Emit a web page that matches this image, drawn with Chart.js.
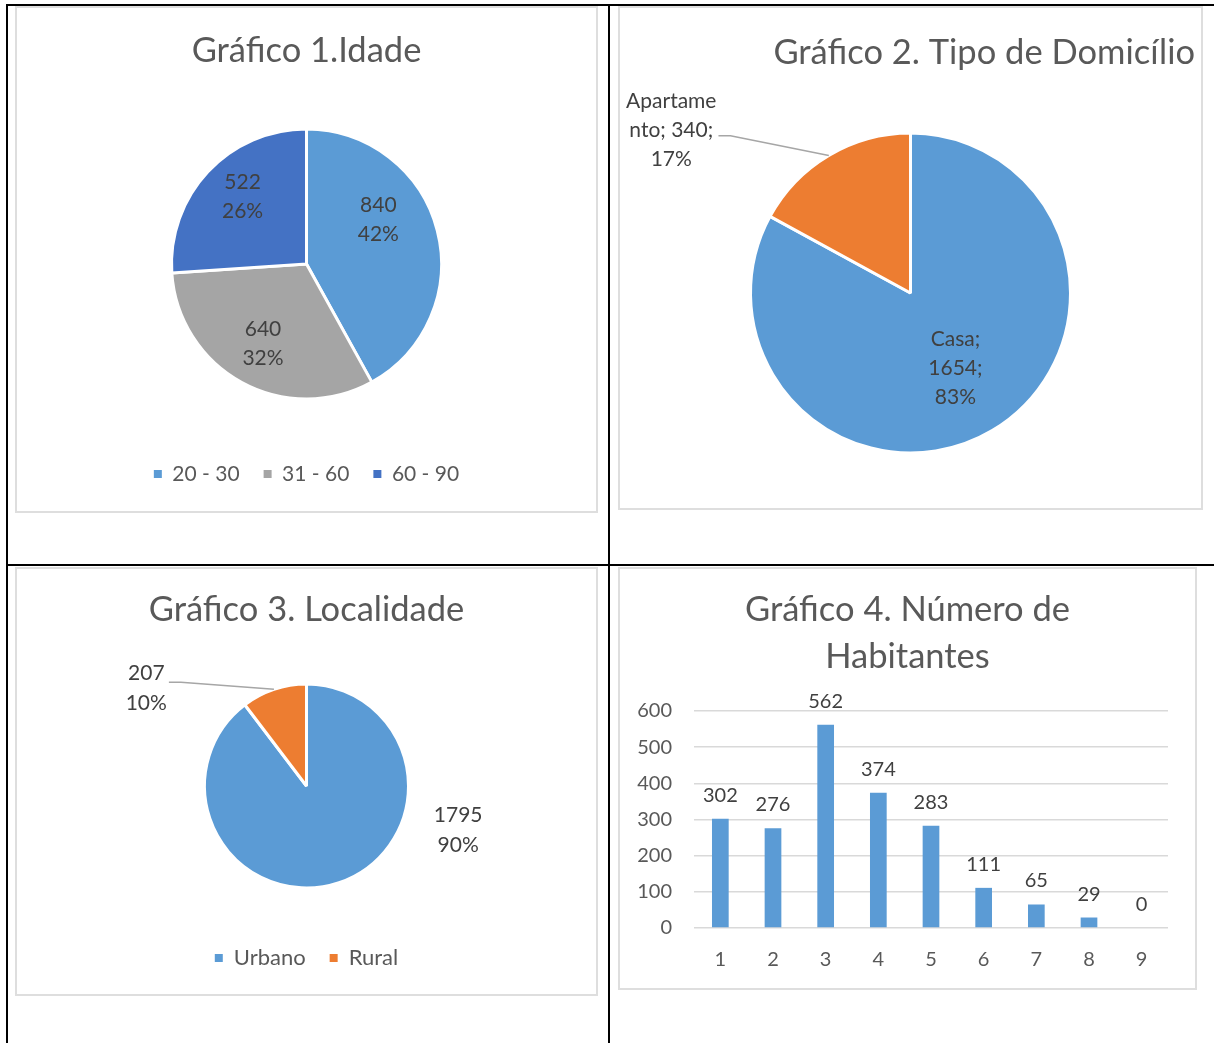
<!DOCTYPE html>
<html>
<head>
<meta charset="utf-8">
<script src="https://cdn.jsdelivr.net/npm/chart.js@4.4.1/dist/chart.umd.min.js"></script>
<style>
  html, body { margin:0; padding:0; background:#fff; }
  body { width:1214px; height:1043px; position:relative; overflow:hidden; font-family: Lato, sans-serif; }
  .ln { position:absolute; background:#000; }
  .box { position:absolute; box-sizing:border-box; border:2px solid #DEDEDE; background:#fff; }
  canvas { position:absolute; }
</style>
</head>
<body>
<div class="box" style="left:15px;top:6px;width:583px;height:507px"></div>
<div class="box" style="left:618px;top:6px;width:585px;height:504px"></div>
<div class="box" style="left:15px;top:567px;width:583px;height:429px"></div>
<div class="box" style="left:618px;top:567px;width:579px;height:423px"></div>

<div class="ln" style="left:6px;top:4px;width:1208px;height:2px"></div>
<div class="ln" style="left:6px;top:4px;width:2px;height:1039px"></div>
<div class="ln" style="left:608px;top:4px;width:2px;height:1039px"></div>
<div class="ln" style="left:6px;top:564px;width:1208px;height:2px"></div>

<canvas id="c1" width="583" height="507" style="left:15px;top:6px"></canvas>
<canvas id="c2" width="585" height="504" style="left:618px;top:6px"></canvas>
<canvas id="c3" width="583" height="429" style="left:15px;top:567px"></canvas>
<canvas id="c4" width="579" height="423" style="left:618px;top:567px"></canvas>

<script>
// ---------- DATA ----------
const idadeTitle = 'Gráfico 1.Idade';
const idadeLabels = ['20 - 30', '31 - 60', '60 - 90'];
const idadeValues = [840, 640, 522];

const domicilioTitle = 'Gráfico 2. Tipo de Domicílio';
const domicilioLabels = ['Casa', 'Apartamento'];
const domicilioValues = [1654, 340];

const localidadeTitle = 'Gráfico 3. Localidade';
const localidadeLabels = ['Urbano', 'Rural'];
const localidadeValues = [1795, 207];

const habitantesTitle = ['Gráfico 4. Número de', 'Habitantes'];
const habitantesLabels = ['1', '2', '3', '4', '5', '6', '7', '8', '9'];
const habitantesValues = [302, 276, 562, 374, 283, 111, 65, 29, 0];
const habitantesTicks = [0, 100, 200, 300, 400, 500, 600];

// ---------- STYLE ----------
const FONT = 'Lato, "Open Sans", sans-serif';
const BLUE = '#5B9BD5', ORANGE = '#ED7D31', GREY = '#A5A5A5', DBLUE = '#4472C4';
const TITLE_C = '#595959', LABEL_C = '#404040';
const TITLE_SIZE = 34.5;
Chart.defaults.font.family = FONT;
Chart.defaults.color = TITLE_C;
Chart.defaults.animation = false;

function wrapText(ctx, text, maxW) {
  if (!maxW) return [text];
  const words = text.split(' ');
  const lines = [];
  let cur = '';
  const pushWord = (w) => {
    const test = cur ? cur + ' ' + w : w;
    if (ctx.measureText(test).width <= maxW) { cur = test; return; }
    if (cur) { lines.push(cur); cur = ''; }
    let part = '';
    for (const ch of w) {
      if (ctx.measureText(part + ch).width > maxW && part) { lines.push(part); part = ch; }
      else part += ch;
    }
    cur = part;
  };
  words.forEach(pushWord);
  if (cur) lines.push(cur);
  return lines;
}

const pieLabels = {
  id: 'pieLabels',
  afterDatasetsDraw(chart, args, opts) {
    const meta = chart.getDatasetMeta(0);
    const ds = chart.data.datasets[0];
    const total = ds.data.reduce((a, b) => a + b, 0);
    const ctx = chart.ctx;
    ctx.save();
    ctx.font = opts.size + 'px ' + FONT;
    ctx.fillStyle = LABEL_C;
    ctx.textAlign = 'center';
    ctx.textBaseline = 'middle';
    meta.data.forEach((arc, i) => {
      const p = arc.getProps(['x', 'y', 'startAngle', 'endAngle', 'outerRadius'], true);
      const mid = (p.startAngle + p.endAngle) / 2;
      const place = opts.place[i];
      const a = mid + place.dAngle * Math.PI / 180;
      const r = p.outerRadius * place.r;
      const cx = p.x + Math.cos(a) * r, cy = p.y + Math.sin(a) * r;
      const pct = Math.round(ds.data[i] / total * 100);
      let lines;
      if (opts.withName) {
        lines = wrapText(ctx, chart.data.labels[i] + '; ' + ds.data[i] + '; ' + pct + '%', place.wrap);
      } else {
        lines = [String(ds.data[i]), pct + '%'];
      }
      const lh = opts.lineHeight;
      lines.forEach((t, k) => ctx.fillText(t, cx, cy + (k - (lines.length - 1) / 2) * lh));
      if (place.leader) {
        const w = Math.max(...lines.map(t => ctx.measureText(t).width));
        const sx = cx + w / 2 + 2, sy = cy + place.leaderDy;
        const ex = p.x + Math.cos(mid) * p.outerRadius, ey = p.y + Math.sin(mid) * p.outerRadius;
        ctx.strokeStyle = '#A6A6A6';
        ctx.lineWidth = 1.5;
        ctx.beginPath();
        ctx.moveTo(sx, sy);
        ctx.lineTo(sx + 12, sy);
        ctx.lineTo(ex, ey);
        ctx.stroke();
      }
    });
    ctx.restore();
  }
};

const barLabels = {
  id: 'barLabels',
  afterDatasetsDraw(chart, args, opts) {
    const meta = chart.getDatasetMeta(0);
    const ds = chart.data.datasets[0];
    const ctx = chart.ctx;
    ctx.save();
    ctx.font = opts.size + 'px ' + FONT;
    ctx.fillStyle = LABEL_C;
    ctx.textAlign = 'center';
    ctx.textBaseline = 'alphabetic';
    meta.data.forEach((bar, i) => {
      ctx.fillText(String(ds.data[i]), bar.x, bar.y - opts.offset);
    });
    ctx.restore();
  }
};

function legendOpts(size) {
  return {
    display: true,
    position: 'bottom',
    labels: {
      font: { size: size, family: FONT },
      color: TITLE_C,
      boxWidth: 8,
      boxHeight: 8,
      padding: 24,
      generateLabels(chart) {
        const items = Chart.overrides.pie.plugins.legend.labels.generateLabels(chart);
        items.forEach(it => { it.lineWidth = 0; it.strokeStyle = 'rgba(0,0,0,0)'; });
        return items;
      }
    },
    onClick: null
  };
}

function titleOpts(text, top, bottom, extra) {
  return Object.assign({
    display: true, text: text, color: TITLE_C,
    font: { size: TITLE_SIZE, weight: 'normal', family: FONT },
    padding: { top: top, bottom: bottom }
  }, extra || {});
}

// ---------- Chart 1 ----------
new Chart(document.getElementById('c1'), {
  type: 'pie',
  data: {
    labels: idadeLabels,
    datasets: [{ data: idadeValues, backgroundColor: [BLUE, GREY, DBLUE], borderColor: '#fff', borderWidth: 3, radius: 135 }]
  },
  options: {
    responsive: false, devicePixelRatio: 1,
    layout: { padding: { top: 0, bottom: 18.5, left: 0, right: 0 } },
    plugins: {
      title: titleOpts(idadeTitle, 24.3, 16.8),
      legend: legendOpts(21),
      tooltip: { enabled: false },
      pieLabels: { size: 21, lineHeight: 29, withName: false,
        place: [ { r: 0.624, dAngle: -17 }, { r: 0.673, dAngle: 0 }, { r: 0.69, dAngle: 3.6 } ] }
    }
  },
  plugins: [pieLabels]
});

// ---------- Chart 2 ----------
new Chart(document.getElementById('c2'), {
  type: 'pie',
  data: {
    labels: domicilioLabels,
    datasets: [{ data: domicilioValues, backgroundColor: [BLUE, ORANGE], borderColor: '#fff', borderWidth: 3, radius: 160 }]
  },
  options: {
    responsive: false, devicePixelRatio: 1,
    layout: { padding: { top: 0, bottom: 30, left: 8, right: 8 } },
    plugins: {
      title: titleOpts(domicilioTitle, 26.3, 32.3, { align: 'end' }),
      legend: { display: false },
      tooltip: { enabled: false },
      pieLabels: { size: 21, lineHeight: 29, withName: true,
        place: [ { r: 0.55, dAngle: 0, wrap: 60 }, { r: 1.81, dAngle: -25, wrap: 95, leader: true, leaderDy: 6 } ] }
    }
  },
  plugins: [pieLabels]
});

// ---------- Chart 3 ----------
new Chart(document.getElementById('c3'), {
  type: 'pie',
  data: {
    labels: localidadeLabels,
    datasets: [{ data: localidadeValues, backgroundColor: [BLUE, ORANGE], borderColor: '#fff', borderWidth: 3, radius: 102 }]
  },
  options: {
    responsive: false, devicePixelRatio: 1,
    layout: { padding: { top: 0, bottom: 17, left: 0, right: 0 } },
    plugins: {
      title: titleOpts(localidadeTitle, 22.3, 18.3),
      legend: legendOpts(22),
      tooltip: { enabled: false },
      pieLabels: { size: 21, lineHeight: 30, withName: false,
        place: [ { r: 1.55, dAngle: -55 }, { r: 1.84, dAngle: -40, leader: true, leaderDy: -6 } ] }
    }
  },
  plugins: [pieLabels]
});

// ---------- Chart 4 ----------
new Chart(document.getElementById('c4'), {
  type: 'bar',
  data: {
    labels: habitantesLabels,
    datasets: [{ data: habitantesValues, backgroundColor: BLUE, categoryPercentage: 1, barPercentage: 0.317, yAxisID: 'y' }]
  },
  options: {
    responsive: false, devicePixelRatio: 1,
    layout: { padding: { top: 0, bottom: 0, left: 0, right: 0 } },
    scales: {
      x: {
        grid: { display: false, drawTicks: false },
        border: { display: false },
        ticks: { color: TITLE_C, font: { size: 20, family: FONT }, padding: 20, maxRotation: 0 },
        afterFit(s) { s.height = 62; }
      },
      y: {
        min: habitantesTicks[0], max: habitantesTicks[habitantesTicks.length - 1],
        afterBuildTicks(s) { s.ticks = habitantesTicks.map(v => ({ value: v })); },
        grid: { color: '#D9D9D9', lineWidth: 1.5, drawTicks: false },
        border: { display: false },
        ticks: { color: TITLE_C, font: { size: 20, family: FONT }, padding: 22 },
        afterFit(s) { s.width = 76; }
      },
      yRight: {
        type: 'linear', position: 'right', display: true,
        grid: { display: false, drawTicks: false },
        border: { display: false },
        ticks: { display: false },
        afterFit(s) { s.width = 29; }
      }
    },
    plugins: {
      title: titleOpts(habitantesTitle, 19.5, 30.5, { font: { size: TITLE_SIZE, weight: 'normal', family: FONT, lineHeight: 47 / TITLE_SIZE } }),
      legend: { display: false },
      tooltip: { enabled: false },
      barLabels: { size: 20, offset: 17 }
    }
  },
  plugins: [barLabels]
});
</script>
</body>
</html>
